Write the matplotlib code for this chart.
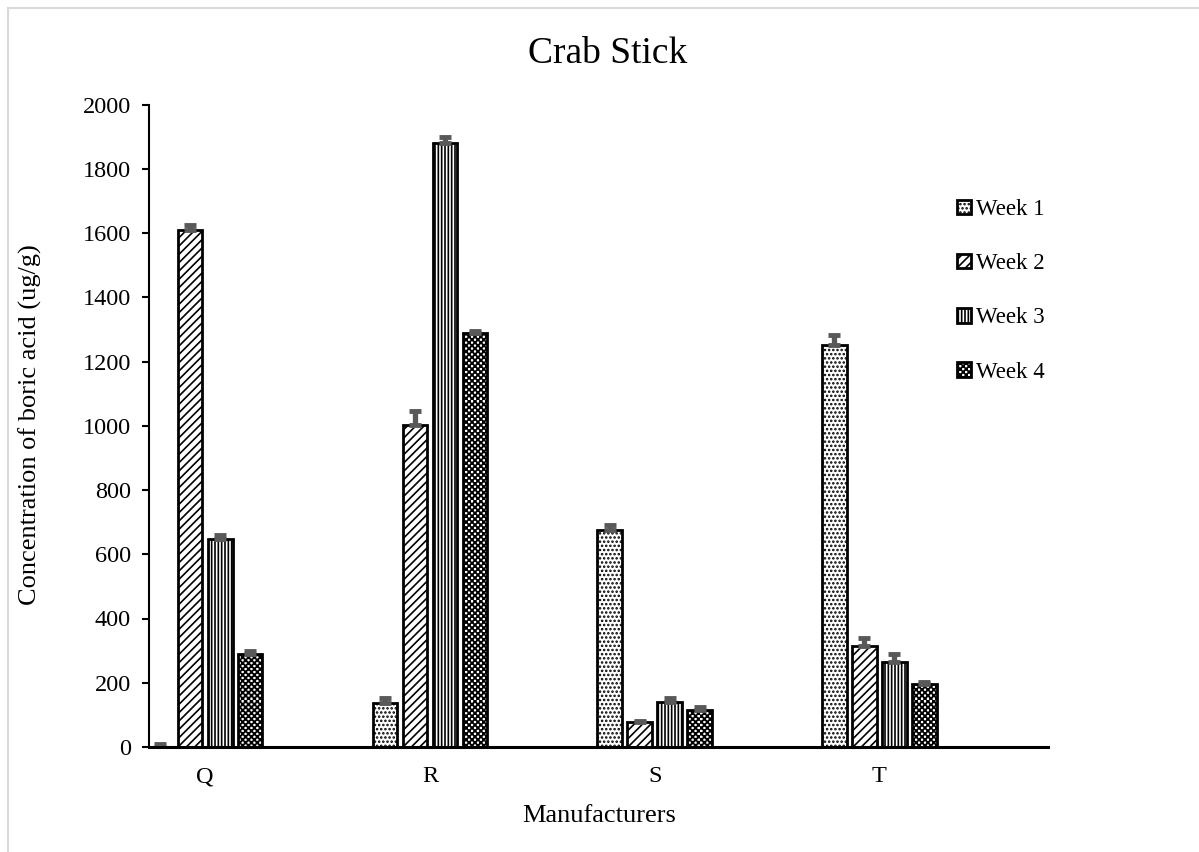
import numpy as np
import matplotlib
matplotlib.use('Agg')
import matplotlib.pyplot as plt
from matplotlib import hatch as mhatch
from matplotlib.path import Path
from matplotlib.patches import Rectangle

manufacturers = ['Q', 'R', 'S', 'T']
weeks = ['Week 1', 'Week 2', 'Week 3', 'Week 4']
week1 = [0, 136, 675, 1252]
week2 = [1609, 1003, 77, 313]
week3 = [647, 1880, 140, 266]
week4 = [288, 1290, 116, 197]
week1_err = [8, 15, 17, 30]
week2_err = [15, 42, 5, 25]
week3_err = [14, 20, 12, 22]
week4_err = [12, 5, 10, 5]
yticks = list(range(0, 2001, 200))

HATCH_LW = 1.2


# checkerboard fill like the excel pattern, takes over the 'O' hatch letter
class CheckerHatch(mhatch.HatchPatternBase):
    def __init__(self, hatch, density):
        self.cells = 34 if 'O' in hatch else 0
        self.num_vertices = self.cells * self.cells // 2 * 5

    def set_vertices_and_codes(self, vertices, codes):
        n = self.cells
        step = 1.0 / n
        lw = HATCH_LW / 72  # hatch stroke grows every square
        side = step - lw * 0.6
        k = 0
        for i in range(n):
            for j in range(n):
                if (i + j) % 2:
                    continue
                x0 = j * step + lw * 0.3
                y0 = i * step + lw * 0.3
                vertices[k:k + 5] = [[x0, y0], [x0 + side, y0], [x0 + side, y0 + side],
                                     [x0, y0 + side], [x0, y0]]
                codes[k:k + 5] = [Path.MOVETO, Path.LINETO, Path.LINETO, Path.LINETO, Path.CLOSEPOLY]
                k += 5


mhatch._hatch_types = [CheckerHatch if t is mhatch.LargeCircles else t for t in mhatch._hatch_types]

plt.rcParams['font.family'] = ['Liberation Serif', 'DejaVu Serif']
plt.rcParams['hatch.linewidth'] = HATCH_LW

fig = plt.figure(figsize=(11.99, 8.52), dpi=100)
ax = fig.add_axes([149/1199, 1-747/852, 899/1199, 642.5/852])

x = np.arange(len(manufacturers))
series = [week1, week2, week3, week4]
errs = [week1_err, week2_err, week3_err, week4_err]
hatches = ['....', '////', '|||||', 'O']
offsets = [-0.2, -0.067, 0.067, 0.2]
for vals, err, h, off, lab in zip(series, errs, hatches, offsets, weeks):
    ax.bar(x + off, vals, 0.11, color='white', edgecolor='black', linewidth=2,
           hatch=h, label=lab, zorder=2,
           yerr=[np.zeros(len(err)), err],
           error_kw=dict(ecolor='#595959', elinewidth=3.8, capsize=4.3, capthick=3.5))

ax.set_xlim(-0.25, 3.75)
ax.set_ylim(0, 2000)
ax.set_yticks(yticks)
ax.set_xticks(x)
ax.set_xticklabels(manufacturers)
ax.tick_params(axis='y', length=5, width=1.5, pad=8, labelsize=17.5)
ax.tick_params(axis='x', length=0, pad=14, labelsize=17.5)
for s in ['top', 'right']:
    ax.spines[s].set_visible(False)
ax.spines['left'].set_linewidth(1.5)
ax.spines['bottom'].set_linewidth(2.2)

fig.text(608/1199, 1-63/852, 'Crab Stick', fontsize=27, ha='center', va='baseline')
fig.text(599/1199, 1-822/852, 'Manufacturers', fontsize=19, ha='center', va='baseline')
fig.text(30/1199, 1-425/852, 'Concentration of boric acid (ug/g)', fontsize=19,
         rotation=90, ha='center', va='center')

fig.legend(loc='upper left', bbox_to_anchor=(957/1199, 1-199/852), frameon=False,
           fontsize=16.5, handlelength=0.6, handleheight=0.6, handletextpad=0.25,
           labelspacing=1.45, borderpad=0, borderaxespad=0)

fig.patches.append(Rectangle((8/1199, -0.1), 1.2, 1-8/852+0.1, transform=fig.transFigure,
                             fill=False, ec='#d9d9d9', lw=1.5))

fig.savefig('out.png', dpi=100)
